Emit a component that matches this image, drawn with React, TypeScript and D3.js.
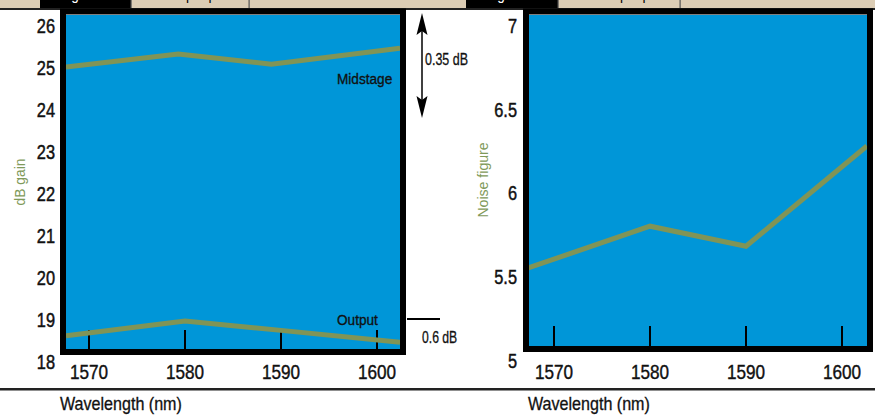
import React from "react";
import * as d3 from "d3";

const wavelengthTicks = [1570, 1580, 1590, 1600];
const gainTicks = [18, 19, 20, 21, 22, 23, 24, 25, 26];
const nfTicks = [5, 5.5, 6, 6.5, 7];

const midstageWl = [1567.6, 1579.3, 1589.0, 1602.4];
const midstageGain = [25.0, 25.31, 25.07, 25.45];
const outputWl = [1567.6, 1580, 1590, 1602.4];
const outputGain = [18.61, 18.96, 18.74, 18.46];
const nfWl = [1567.3, 1580, 1590, 1602.6];
const noiseFigure = [5.55, 5.8, 5.68, 6.28];

const FONT = "'Liberation Sans', Arial, 'DejaVu Sans', sans-serif";
const BLUE = "#0096d8";
const OLIVE = "#809456";
const TITLE_GREEN = "#7f9a5a";
const BEIGE = "#dccdb5";

type Pt = [number, number];

type TProps = {
  x: number;
  y: number;
  size: number;
  sx: number;
  anchor?: "start" | "middle" | "end";
  fill?: string;
  rotate?: number;
  dy?: string;
  bold?: number;
  children: React.ReactNode;
};

function T({ x, y, size, sx, anchor = "start", fill = "#111", rotate, dy, bold = 0, children }: TProps) {
  const tr = `translate(${x},${y})${rotate ? ` rotate(${rotate})` : ""} scale(${sx},1)`;
  return (
    <text
      transform={tr}
      fontSize={size}
      textAnchor={anchor}
      fill={fill}
      dy={dy}
      stroke={bold ? fill : "none"}
      strokeWidth={bold}
    >
      {children}
    </text>
  );
}

export default function App() {
  const W = 875;
  const H = 415;

  const xL = d3.scaleLinear().domain([1570, 1600]).range([89, 377]);
  const yL = d3.scaleLinear().domain([18, 26]).range([361.5, 25]);
  const innerL = { x0: 66, x1: 400, y0: 15, y1: 349 };

  const xR = d3.scaleLinear().domain([1570, 1600]).range([554, 842]);
  const yR = d3.scaleLinear().domain([5, 7]).range([360, 25.5]);
  const innerR = { x0: 529, x1: 867, y0: 15, y1: 346 };

  const lineL = d3.line<Pt>().x((d) => xL(d[0])).y((d) => yL(d[1]));
  const lineR = d3.line<Pt>().x((d) => xR(d[0])).y((d) => yR(d[1]));

  const mid: Pt[] = midstageWl.map((w, i) => [w, midstageGain[i]]);
  const out: Pt[] = outputWl.map((w, i) => [w, outputGain[i]]);
  const nf: Pt[] = nfWl.map((w, i) => [w, noiseFigure[i]]);

  const fr = 6;

  return (
    <svg width={W} height={H} style={{ position: "absolute", left: 0, top: 0, background: "#fff" }} fontFamily={FONT}>
      <defs>
        <clipPath id="clipL">
          <rect x={innerL.x0} y={innerL.y0} width={innerL.x1 - innerL.x0} height={innerL.y1 - innerL.y0} />
        </clipPath>
        <clipPath id="clipR">
          <rect x={innerR.x0} y={innerR.y0} width={innerR.x1 - innerR.x0} height={innerR.y1 - innerR.y0} />
        </clipPath>
      </defs>
      <rect x={0} y={0} width={W} height={H} fill="#fff" />

      {/* top tab strip */}
      <rect x={0} y={0} width={W} height={8} fill={BEIGE} />
      <rect x={40} y={0} width={91} height={8} fill="#000" />
      <rect x={466} y={0} width={92} height={8} fill="#000" />
      <rect x={130.5} y={0} width={1.2} height={8} fill="#555" />
      <rect x={248.5} y={0} width={1.2} height={8} fill="#555" />
      <rect x={557.5} y={0} width={1.2} height={8} fill="#555" />
      <rect x={679.5} y={0} width={1.2} height={8} fill="#555" />
      <rect x={0} y={8} width={W} height={2} fill="#222" />
      <T x={60} y={-0.5} size={16} sx={0.85} fill="#fff">Figure 3a</T>
      <T x={164} y={-0.5} size={16} sx={0.85} fill="#000">Output power</T>
      <T x={486} y={-0.5} size={16} sx={0.85} fill="#fff">Figure 3b</T>
      <T x={598} y={-0.5} size={16} sx={0.85} fill="#000">Output power</T>

      {/* LEFT PANEL */}
      <rect x={innerL.x0} y={innerL.y0} width={innerL.x1 - innerL.x0} height={innerL.y1 - innerL.y0} fill={BLUE} />
      <g clipPath="url(#clipL)">
        {wavelengthTicks.map((t) => (
          <line key={t} x1={xL(t)} x2={xL(t)} y1={innerL.y1} y2={innerL.y1 - 19} stroke="#000" strokeWidth={2} />
        ))}
        <path d={lineL(mid) || ""} fill="none" stroke={OLIVE} strokeWidth={5} />
        <path d={lineL(out) || ""} fill="none" stroke={OLIVE} strokeWidth={5} />
      </g>
      <rect x={innerL.x0 - fr / 2} y={innerL.y0 - fr / 2 - 0.5} width={innerL.x1 - innerL.x0 + fr} height={innerL.y1 - innerL.y0 + fr + 0.5} fill="none" stroke="#000" strokeWidth={fr} />
      {gainTicks.map((t) => (
        <T key={t} x={55} y={yL(t)} dy="0.36em" anchor="end" size={21} sx={0.78} bold={0.5}>{t}</T>
      ))}
      {wavelengthTicks.map((t) => (
        <T key={t} x={xL(t)} y={379} anchor="middle" size={19.5} sx={0.88} bold={0.4}>{t}</T>
      ))}
      <T x={25} y={182} rotate={-90} anchor="middle" size={15} sx={0.92} fill={TITLE_GREEN}>dB gain</T>
      <T x={337} y={84} size={15.5} sx={0.88} bold={0.35}>Midstage</T>
      <T x={337} y={325} size={15.5} sx={0.88} bold={0.35}>Output</T>

      {/* annotations */}
      <line x1={422} x2={422} y1={25} y2={106} stroke="#000" strokeWidth={1.5} />
      <path d="M422,13 L416.5,35 L422,31 L427.5,35 Z" fill="#000" />
      <path d="M422,118 L416.5,96 L422,100 L427.5,96 Z" fill="#000" />
      <T x={425} y={65} size={16} sx={0.78} bold={0.3}>0.35 dB</T>
      <line x1={407} x2={440} y1={319} y2={319} stroke="#000" strokeWidth={2} />
      <T x={422} y={343} size={16} sx={0.76} bold={0.3}>0.6 dB</T>

      {/* RIGHT PANEL */}
      <rect x={innerR.x0} y={innerR.y0} width={innerR.x1 - innerR.x0} height={innerR.y1 - innerR.y0} fill={BLUE} />
      <g clipPath="url(#clipR)">
        {wavelengthTicks.map((t) => (
          <line key={t} x1={xR(t)} x2={xR(t)} y1={innerR.y1} y2={innerR.y1 - 20} stroke="#000" strokeWidth={2} />
        ))}
        <path d={lineR(nf) || ""} fill="none" stroke={OLIVE} strokeWidth={5} />
      </g>
      <rect x={innerR.x0 - fr / 2} y={innerR.y0 - fr / 2 - 0.5} width={innerR.x1 - innerR.x0 + fr} height={innerR.y1 - innerR.y0 + fr + 0.5} fill="none" stroke="#000" strokeWidth={fr} />
      {nfTicks.map((t) => (
        <T key={t} x={517} y={yR(t)} dy="0.36em" anchor="end" size={21} sx={0.78} bold={0.5}>{t}</T>
      ))}
      {wavelengthTicks.map((t) => (
        <T key={t} x={xR(t)} y={379} anchor="middle" size={19.5} sx={0.88} bold={0.4}>{t}</T>
      ))}
      <T x={488} y={180} rotate={-90} anchor="middle" size={15} sx={0.94} fill={TITLE_GREEN}>Noise figure</T>

      {/* bottom separator and titles */}
      <rect x={0} y={388} width={W} height={2.5} fill="#222" />
      <T x={60} y={410} size={17.5} sx={0.92} bold={0.3}>Wavelength (nm)</T>
      <T x={528} y={410} size={17.5} sx={0.92} bold={0.3}>Wavelength (nm)</T>
    </svg>
  );
}
